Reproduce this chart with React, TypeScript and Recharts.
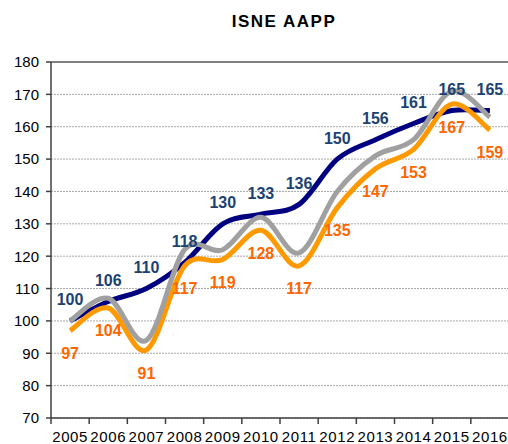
import { LineChart, Line, XAxis, YAxis, CartesianGrid, ReferenceLine, LabelList } from "recharts";

const YEARS = ["2005", "2006", "2007", "2008", "2009", "2010", "2011", "2012", "2013", "2014", "2015", "2016"];
const NAVY_VALUES = [100, 106, 110, 118, 130, 133, 136, 150, 156, 161, 165, 165];
const ORANGE_VALUES = [97, 104, 91, 117, 119, 128, 117, 135, 147, 153, 167, 159];
const GRAY_VALUES = [100, 107, 94, 122, 122, 132, 121, 140, 151, 156, 171, 163];
const Y_TICKS = [70, 80, 90, 100, 110, 120, 130, 140, 150, 160, 170, 180];

const FONT = "Arial, 'Liberation Sans', sans-serif";
const NAVY = "#000080";
const NAVY_TEXT = "#1B4272";
const ORANGE = "#FF9900";
const ORANGE_TEXT = "#FF6600";
const GRAY = "#A0A0A0";

const data = YEARS.map((year, i) => ({
    year,
    navy: NAVY_VALUES[i],
    orange: ORANGE_VALUES[i],
    gray: GRAY_VALUES[i],
}));

// Excel-like smoothed line (Catmull-Rom through every point)
function smoothCurve(context: any) {
    let pts: number[][] = [];
    return {
        areaStart() {},
        areaEnd() {},
        lineStart() {
            pts = [];
        },
        lineEnd() {
            if (!pts.length) return;
            context.moveTo(pts[0][0], pts[0][1]);
            for (let i = 0; i < pts.length - 1; i++) {
                const p0 = pts[Math.max(0, i - 1)];
                const p1 = pts[i];
                const p2 = pts[i + 1];
                const p3 = pts[Math.min(pts.length - 1, i + 2)];
                context.bezierCurveTo(
                    p1[0] + (p2[0] - p0[0]) / 6,
                    p1[1] + (p2[1] - p0[1]) / 6,
                    p2[0] - (p3[0] - p1[0]) / 6,
                    p2[1] - (p3[1] - p1[1]) / 6,
                    p2[0],
                    p2[1]
                );
            }
        },
        point(x: number, y: number) {
            pts.push([+x, +y]);
        },
    };
}

const makeLabel = (color: string, dy: number) => (props: any) => {
    const { x, y, value } = props;
    if (x == null || y == null) return null;
    return (
        <text
            x={x}
            y={y + dy}
            fill={color}
            textAnchor="middle"
            dominantBaseline="central"
            fontSize={16}
            fontWeight="bold"
            fontFamily={FONT}
        >
            {value}
        </text>
    );
};

const YearTick = (props: any) => {
    const { x, y, payload, index } = props;
    const half = payload && payload.offset > 0 ? payload.offset : 19;
    return (
        <g>
            <line x1={x - half} x2={x - half} y1={y} y2={y + 6} stroke="#404040" strokeWidth={1.5} />
            {index === YEARS.length - 1 && (
                <line x1={x + half} x2={x + half} y1={y} y2={y + 6} stroke="#404040" strokeWidth={1.5} />
            )}
            <text x={x} y={y + 24} textAnchor="middle" fontSize={15} letterSpacing={0.6} fontFamily={FONT} fill="#000">
                {payload.value}
            </text>
        </g>
    );
};

export default function App() {
    return (
        <div style={{ position: "relative", width: 508, height: 444, overflow: "hidden", background: "#fff" }}>
            <style>{"body{margin:0}"}</style>
            <div
                style={{
                    position: "absolute",
                    left: 184,
                    top: 14,
                    width: 200,
                    textAlign: "center",
                    fontFamily: FONT,
                    fontWeight: "bold",
                    fontSize: 17,
                    lineHeight: "16px",
                    letterSpacing: 1.5,
                    color: "#000",
                }}
            >
                ISNE AAPP
            </div>
            <LineChart width={512} height={444} data={data} margin={{ top: 62, right: 3, bottom: 2, left: 0 }}>
                <CartesianGrid vertical={false} stroke="#A8A8A8" strokeDasharray="2 1" />
                <ReferenceLine y={180} stroke="#808080" strokeWidth={2} />
                <XAxis
                    dataKey="year"
                    scale="band"
                    height={24}
                    tickLine={false}
                    tickSize={0}
                    tickMargin={0}
                    interval={0}
                    axisLine={{ stroke: "#404040", strokeWidth: 1.5 }}
                    tick={<YearTick />}
                />
                <YAxis
                    domain={[70, 180]}
                    ticks={Y_TICKS}
                    interval={0}
                    width={51}
                    tickSize={5}
                    tickMargin={7}
                    axisLine={{ stroke: "#404040", strokeWidth: 1.5 }}
                    tickLine={{ stroke: "#404040", strokeWidth: 1.5 }}
                    tick={{ fontSize: 15, fontFamily: FONT, fill: "#000" }}
                />
                <Line dataKey="navy" type={smoothCurve as any} stroke={NAVY} strokeWidth={5} dot={false} activeDot={false} isAnimationActive={false} />
                <Line dataKey="orange" type={smoothCurve as any} stroke={ORANGE} strokeWidth={5} dot={false} activeDot={false} isAnimationActive={false} />
                <Line dataKey="gray" type={smoothCurve as any} stroke={GRAY} strokeWidth={5} dot={false} activeDot={false} isAnimationActive={false} />
                <Line dataKey="navy" stroke="none" dot={false} activeDot={false} isAnimationActive={false}>
                    <LabelList dataKey="navy" content={makeLabel(NAVY_TEXT, -21)} />
                </Line>
                <Line dataKey="orange" stroke="none" dot={false} activeDot={false} isAnimationActive={false}>
                    <LabelList dataKey="orange" content={makeLabel(ORANGE_TEXT, 23)} />
                </Line>
            </LineChart>
        </div>
    );
}
